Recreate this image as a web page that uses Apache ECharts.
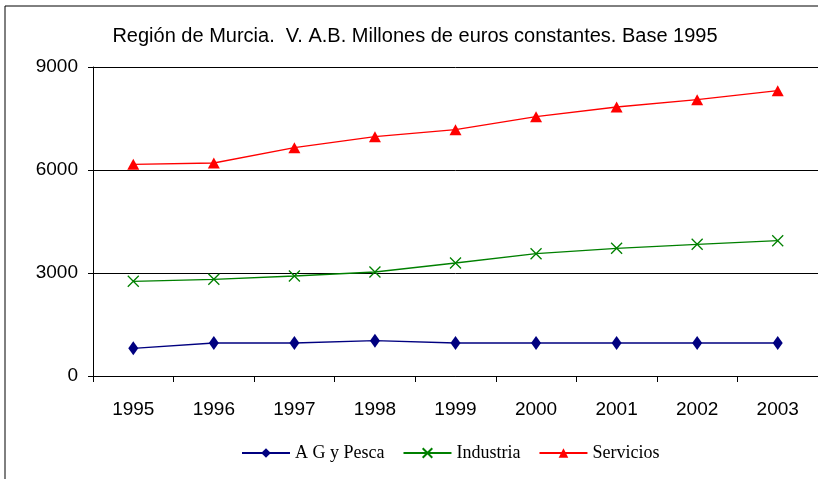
<!DOCTYPE html>
<html>
<head>
<meta charset="utf-8">
<script src="https://cdn.jsdelivr.net/npm/echarts@6/dist/echarts.min.js"></script>
<style>
  html, body { margin: 0; padding: 0; background: #fff; }
  #chart { width: 818px; height: 479px; }
</style>
</head>
<body>
<div id="chart"></div>
<script>
  // datos
  var years = ["1995", "1996", "1997", "1998", "1999", "2000", "2001", "2002", "2003"];
  var agPesca = [807, 961, 961, 1028, 961, 961, 961, 961, 961];
  var industria = [2758, 2816, 2913, 3029, 3291, 3562, 3719, 3836, 3941];
  var servicios = [6166, 6204, 6650, 6970, 7174, 7553, 7835, 8048, 8310];
  var yTicks = [0, 3000, 6000, 9000];

  var chart = echarts.init(document.getElementById("chart"));
  var crossPath = "path://M0,0L10,10M10,0L0,10";

  var option = {
    animation: false,
    backgroundColor: "#fff",
    title: {
      text: "Región de Murcia.  V. A.B. Millones de euros constantes. Base 1995",
      left: 410,
      textAlign: "center",
      top: 21,
      textStyle: {
        fontFamily: "Liberation Sans Narrow, Liberation Sans, Arial",
        fontSize: 20,
        fontWeight: "normal",
        color: "#000"
      }
    },
    graphic: [{
      type: "rect",
      shape: { x: 5, y: 6, width: 830, height: 490 },
      style: { fill: "none", stroke: "#000", lineWidth: 1 },
      silent: true
    }],
    legend: {
      bottom: 12,
      left: 236,
      itemWidth: 48,
      itemHeight: 12,
      itemGap: 18,
      textStyle: {
        fontFamily: "Liberation Serif, Times New Roman",
        fontSize: 18,
        color: "#000"
      },
      data: ["A G y Pesca", "Industria", "Servicios"]
    },
    grid: { left: 93, right: 0, top: 67, bottom: 103, containLabel: false },
    xAxis: {
      type: "category",
      data: years,
      boundaryGap: true,
      axisLine: { lineStyle: { color: "#000", width: 1 } },
      axisTick: { show: true, length: 6, lineStyle: { color: "#000" } },
      axisLabel: {
        fontFamily: "Liberation Sans, Arial",
        fontSize: 19,
        color: "#000",
        margin: 24
      }
    },
    yAxis: {
      type: "value",
      min: yTicks[0],
      max: yTicks[yTicks.length - 1],
      interval: 3000,
      axisLine: { show: true, lineStyle: { color: "#000", width: 1 } },
      axisTick: { show: true, length: 5, lineStyle: { color: "#000" } },
      splitLine: { show: true, lineStyle: { color: "#000", width: 1 } },
      axisLabel: {
        fontFamily: "Liberation Sans, Arial",
        fontSize: 19,
        color: "#000",
        margin: 15,
        formatter: function (v) { return String(v); }
      }
    },
    series: [
      {
        name: "A G y Pesca",
        type: "line",
        data: agPesca,
        symbol: "diamond",
        symbolSize: [10, 14],
        showAllSymbol: true,
        lineStyle: { color: "#000080", width: 1.3 },
        itemStyle: { color: "#000080" }
      },
      {
        name: "Industria",
        type: "line",
        data: industria,
        symbol: crossPath,
        symbolSize: 11,
        showAllSymbol: true,
        lineStyle: { color: "#008000", width: 1.3 },
        itemStyle: { color: "#008000", borderColor: "#008000", borderWidth: 1.3 }
      },
      {
        name: "Servicios",
        type: "line",
        data: servicios,
        symbol: "triangle",
        symbolSize: [12, 11],
        showAllSymbol: true,
        lineStyle: { color: "#ff0000", width: 1.3 },
        itemStyle: { color: "#ff0000" }
      }
    ]
  };

  chart.setOption(option);
</script>
</body>
</html>
